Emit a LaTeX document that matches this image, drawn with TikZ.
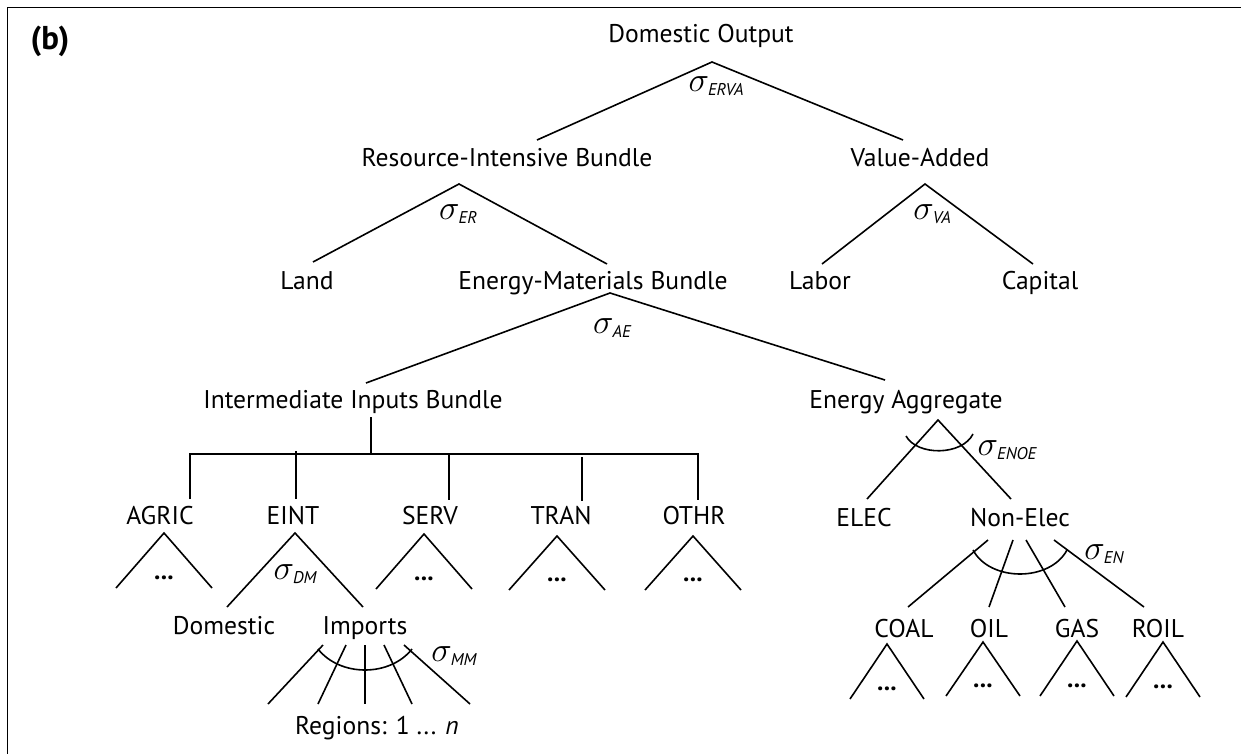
\documentclass[tikz,border=0pt]{standalone}
\usepackage{amsmath}
\usepackage{fontspec}
\setmainfont{PT Sans}
\usetikzlibrary{calc}
\newcommand{\sig}[1]{{\fontsize{17}{18}\selectfont$\sigma$}\kern-0.5pt\raisebox{-0.35ex}{\fontsize{8.5}{9}\selectfont\itshape #1}}

\begin{document}
\begin{tikzpicture}[x=0.5pt,y=-0.5pt,
		lbl/.style={anchor=base,inner sep=0pt,font=\fontsize{12.8}{15}\selectfont},
		elas/.style={inner sep=0pt},
		tree/.style={line width=0.8pt}]
		\useasboundingbox (0,0) rectangle (1241,754);
		\draw[line width=0.6pt] (7.5,754) -- (7.5,7.5) -- (1241,7.5);
		\node[lbl,font=\fontsize{16.5}{18}\selectfont\bfseries] (tag) at (50,50) {(b)};
		% labels of the nest
		\node[lbl] (dom) at (701,43) {Domestic Output};
		\node[lbl] (rib) at (507,167) {Resource-Intensive Bundle};
		\node[lbl] (va) at (920,167) {Value-Added};
		\node[lbl] (land) at (307,289) {Land};
		\node[lbl] (emb) at (593,289) {Energy-Materials Bundle};
		\node[lbl] (labor) at (820,289) {Labor};
		\node[lbl] (capital) at (1040,289) {Capital};
		\node[lbl] (iib) at (353,408) {Intermediate Inputs Bundle};
		\node[lbl] (ea) at (906,408) {Energy Aggregate};
		\node[lbl] (agric) at (160,524) {AGRIC};
		\node[lbl] (eint) at (293,524) {EINT};
		\node[lbl] (serv) at (430,524) {SERV};
		\node[lbl] (tran) at (561,524) {TRAN};
		\node[lbl] (othr) at (694,524) {OTHR};
		\node[lbl] (elec) at (864,526) {ELEC};
		\node[lbl] (nonelec) at (1020,526) {Non-Elec};
		\node[lbl] (domestic) at (224,634) {Domestic};
		\node[lbl] (imports) at (365,634) {Imports};
		\node[lbl] (coal) at (904,637) {COAL};
		\node[lbl] (oil) at (989,637) {OIL};
		\node[lbl] (gas) at (1077,637) {GAS};
		\node[lbl] (roil) at (1158,637) {ROIL};
		\node[lbl] (regions) at (377,734) {Regions: 1 ... \textit{n}};
		% elasticities
		\node[elas] (s-erva) at (716,86) {\sig{ERVA}};
		\node[elas] (s-er) at (458,214) {\sig{ER}};
		\node[elas] (s-va) at (932,214) {\sig{VA}};
		\node[elas] (s-ae) at (612,328) {\sig{AE}};
		\node[elas] (s-dm) at (295,574) {\sig{DM}};
		\node[elas] (s-mm) at (454,656) {\sig{MM}};
		\node[elas] (s-enoe) at (1007,450) {\sig{ENOE}};
		\node[elas] (s-en) at (1104,554) {\sig{EN}};
		% branch points
		\coordinate (dom-s) at (712,62);
		\coordinate (rib-n) at (537,140);
		\coordinate (va-n) at (903,140);
		\coordinate (rib-s) at (459,184);
		\coordinate (land-n) at (313,262);
		\coordinate (emb-n) at (607,264);
		\coordinate (va-s) at (925,184);
		\coordinate (labor-n) at (822,264);
		\coordinate (capital-n) at (1033,264);
		\coordinate (emb-s) at (610,293);
		\coordinate (iib-n) at (366,383);
		\coordinate (ea-n) at (885,380);
		\coordinate (iib-s) at (371,417);
		\coordinate (bar) at (371,454);
		\coordinate (eint-s) at (295,533);
		\coordinate (domestic-n) at (227,607);
		\coordinate (imports-n) at (363,607);
		\coordinate (ea-s) at (938,420);
		\coordinate (elec-n) at (867,499);
		\coordinate (nonelec-n) at (1011,499);
		\draw[tree] (rib-n) -- (dom-s) -- (va-n);
		\draw[tree] (land-n) -- (rib-s) -- (emb-n);
		\draw[tree] (labor-n) -- (va-s) -- (capital-n);
		\draw[tree] (iib-n) -- (emb-s) -- (ea-n);
		\draw[tree] (iib-s) -- (bar);
		\draw[tree] (190,499) -- (190,454) -- (698,454) -- (698,500);
		\draw[tree] (296,451) -- (296,499);
		\draw[tree] (449,454) -- (449,500);
		\draw[tree] (582,457) -- (582,501);
		\draw[tree] (domestic-n) -- (eint-s) -- (imports-n);
		\draw[tree] (elec-n) -- (ea-s) -- (nonelec-n);
		\draw[tree] (906,436) .. controls (917,456) and (962,456) .. (973,434);
		% imports from regions
		\foreach \xa/\xb in {323/268, 346/318, 365/365, 384/412, 404/470}
			\draw[tree] (\xa,645) -- (\xb,704);
		\draw[tree] (318,649) .. controls (340,677) and (390,677) .. (412,649);
		% non-electric fuels
		\foreach \xa/\xb in {988/908, 1013/989, 1026/1065, 1054/1144}
			\draw[tree] (\xa,540) -- (\xb,607);
		\draw[tree] (973,550) .. controls (990,582) and (1050,582) .. (1067,550);
		% lower nests
		\foreach \x/\ya/\yb/\w in {164/533/588/48, 424/534/589/48, 557/536/590/48, 693/536/590/48,
				887/644/699/37, 983/642/696/37, 1077/641/696/37, 1163/642/697/37}{
			\draw[tree] (\x-\w,\yb) -- (\x,\ya) -- (\x+\w,\yb);
			\node[lbl] at (\x,\yb-9) {\textbf{...}};
		}
	\end{tikzpicture}
\end{document}
